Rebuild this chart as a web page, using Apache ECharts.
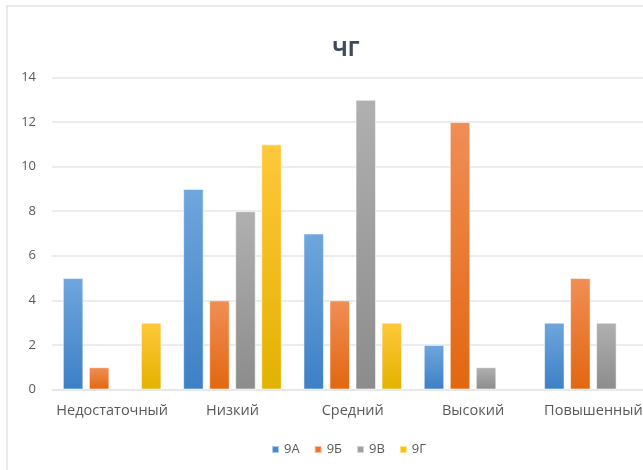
<!DOCTYPE html>
<html><head><meta charset="utf-8">
<script src="https://cdn.jsdelivr.net/npm/echarts@6/dist/echarts.min.js"></script>
<style>html,body{margin:0;padding:0;background:#fff}#c{width:643px;height:470px}</style>
</head><body><div id="c"></div>
<script>
const categories = ['Недостаточный', 'Низкий', 'Средний', 'Высокий', 'Повышенный'];
const seriesNames = ['9А', '9Б', '9В', '9Г'];
const s9A = [5, 9, 7, 2, 3];
const s9B = [1, 4, 4, 12, 5];
const s9V = [0, 8, 13, 1, 3];
const s9G = [3, 11, 3, 0, 0];
const yTicks = [0, 2, 4, 6, 8, 10, 12, 14];

const values = [s9A, s9B, s9V, s9G];
const grads = [
  ['#6fa6dd', '#3d80c5'],
  ['#f18e55', '#e2670f'],
  ['#b0b0b0', '#8c8c8c'],
  ['#ffc83a', '#e2b200']
];
const solid = ['#4a8bd0', '#ed7428', '#a0a0a0', '#ffc000'];
const FONT = 'Open Sans';

const chart = echarts.init(document.getElementById('c'), null, {renderer: 'canvas'});
chart.setOption({
  animation: false,
  backgroundColor: '#fff',
  textStyle: {fontFamily: FONT},
  title: {
    text: 'ЧГ', left: 341, top: 35, textAlign: 'center',
    textStyle: {fontFamily: FONT, fontSize: 21, fontWeight: 'bold', color: '#3d4a5c'}
  },
  graphic: [{
    type: 'rect', shape: {x: 7, y: 6, width: 700, height: 500},
    style: {fill: 'none', stroke: '#dfe3e8', lineWidth: 1.5}, silent: true, z: -1
  }],
  legend: {
    data: seriesNames.map((n, i) => ({name: n, itemStyle: {color: solid[i]}})),
    left: 271, top: 443, padding: 0, itemWidth: 7, itemHeight: 7, itemGap: 14, icon: 'rect',
    textStyle: {fontFamily: FONT, fontSize: 13, color: '#595959'}
  },
  grid: {left: 52, top: 77.5, width: 601.5, height: 312, containLabel: false, outerBoundsMode: 'none'},
  xAxis: {
    type: 'category', data: categories,
    axisLine: {show: true, lineStyle: {color: '#e2e6ec', width: 1.5}},
    axisTick: {show: false},
    axisLabel: {fontFamily: FONT, fontSize: 14.5, color: '#595959', margin: 14, interval: 0}
  },
  yAxis: {
    type: 'value', min: yTicks[0], max: yTicks[yTicks.length - 1], interval: 2,
    axisLine: {show: false}, axisTick: {show: false},
    axisLabel: {fontFamily: FONT, fontSize: 13, color: '#595959', margin: 16},
    splitLine: {lineStyle: {color: '#e2e6ec', width: 1.5}}
  },
  series: seriesNames.map((n, i) => ({
    name: n, type: 'bar', barWidth: 20.5, barGap: '27%',
    data: values[i].map(v => v === 0 ? {value: v, itemStyle: {borderWidth: 0, opacity: 0}} : v),
    itemStyle: {
      color: {type: 'linear', x: 0, y: 0, x2: 0, y2: 1,
        colorStops: [{offset: 0, color: grads[i][0]}, {offset: 1, color: grads[i][1]}]},
      borderColor: 'rgba(255,255,255,0.55)', borderWidth: 1
    }
  }))
});
</script></body></html>
